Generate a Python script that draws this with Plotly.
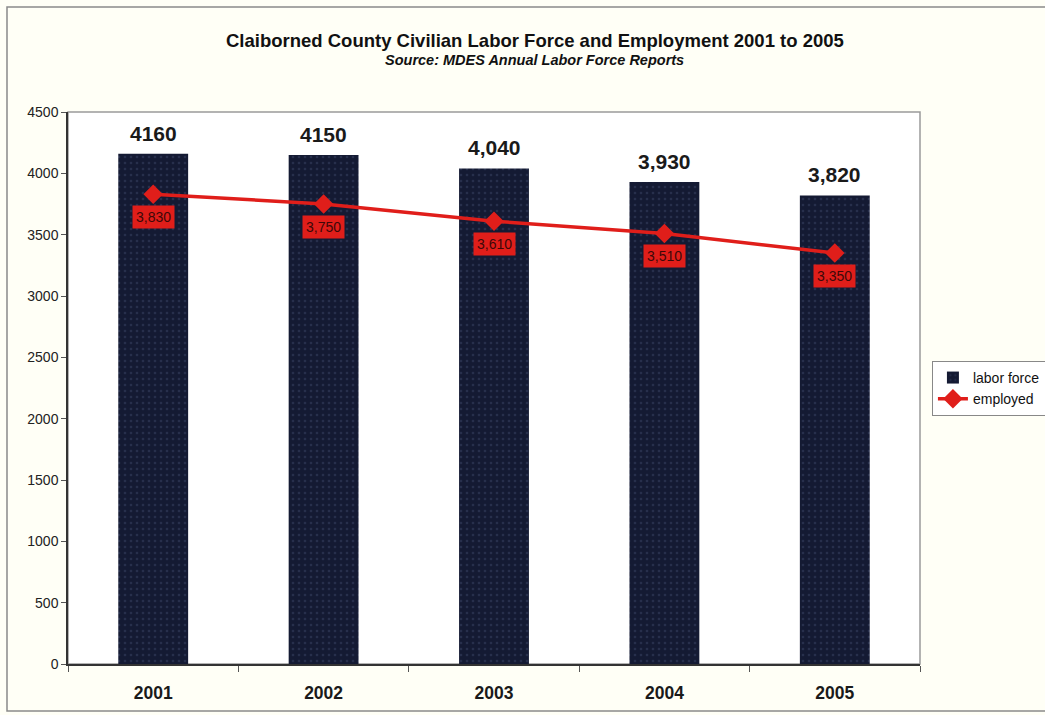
import plotly.graph_objects as go

# Claiborne County labor force vs. employed, 2001-2005
years = ["2001", "2002", "2003", "2004", "2005"]
labor_force = [4160, 4150, 4040, 3930, 3820]
employed = [3830, 3750, 3610, 3510, 3350]
labor_labels = ["4160", "4150", "4,040", "3,930", "3,820"]
employed_labels = [f"{v:,}" for v in employed]
y_ticks = [0, 500, 1000, 1500, 2000, 2500, 3000, 3500, 4000, 4500]

FONT = "Arial, Liberation Sans, sans-serif"
NAVY = "#141a33"
RED = "#e01e1a"

fig = go.Figure()

fig.add_trace(go.Bar(
    x=years, y=labor_force, name="labor force",
    marker=dict(color=NAVY, line=dict(width=0),
                pattern=dict(shape=".", fgcolor="#3a4466", size=6, solidity=0.15)),
))

fig.add_trace(go.Scatter(
    x=years, y=employed, name="employed", mode="lines+markers",
    line=dict(color=RED, width=3.5),
    marker=dict(symbol="diamond", size=15, color=RED),
))

# bar value labels above each bar (category index as x position)
for i, (v, lbl) in enumerate(zip(labor_force, labor_labels)):
    fig.add_annotation(
        x=i, y=v, xref="x", yref="y", text=f"<b>{lbl}</b>", showarrow=False,
        yanchor="bottom", yshift=7,
        font=dict(family=FONT, size=21, color="#1a1a1a"),
    )

# value boxes under each employment point
for i, (v, lbl) in enumerate(zip(employed, employed_labels)):
    fig.add_annotation(
        x=i, y=v, xref="x", yref="y", text=lbl, showarrow=False, yshift=-23,
        font=dict(family=FONT, size=14, color="#3d0808"),
        bgcolor=RED, borderpad=3,
    )

# titles
fig.add_annotation(
    xref="paper", yref="paper", x=0.548, y=1.130, xanchor="center", yanchor="middle",
    text="<b>Claiborned County Civilian Labor Force and Employment 2001 to 2005</b>",
    showarrow=False, font=dict(family=FONT, size=18.5, color="#111111"),
)
fig.add_annotation(
    xref="paper", yref="paper", x=0.548, y=1.094, xanchor="center", yanchor="middle",
    text="<b><i>Source: MDES Annual Labor Force Reports</i></b>",
    showarrow=False, font=dict(family=FONT, size=14.5, color="#111111"),
)

# outer chart frame and plot-area frame
fig.add_shape(type="rect", xref="paper", yref="paper",
              x0=-0.0716, y0=-0.085, x1=1.16, y1=1.19,
              line=dict(color="#8a8a8a", width=1.5), layer="below")
fig.add_shape(type="rect", xref="paper", yref="paper",
              x0=0, y0=0, x1=1, y1=1,
              line=dict(color="#9a9a9a", width=1.5), layer="below")

fig.update_layout(
    width=1045, height=715,
    margin=dict(l=68, r=125, t=112, b=51, autoexpand=False),
    paper_bgcolor="#fffff6",
    plot_bgcolor="#ffffff",
    bargap=0.59,
    font=dict(family=FONT, color="#222222"),
    showlegend=True,
    legend=dict(
        x=1.014, y=0.549, xanchor="left", yanchor="top",
        bgcolor="#ffffff", bordercolor="#888888", borderwidth=1,
        font=dict(family=FONT, size=14, color="#111111"),
        tracegroupgap=2, itemwidth=30,
    ),
)

fig.update_xaxes(
    type="category", categoryorder="array", categoryarray=years,
    range=[-0.5, 4.5],
    showgrid=False,
    showline=True, linecolor="#333333", linewidth=1.5,
    ticks="outside", tickson="boundaries", ticklen=6, tickcolor="#555555",
    tickfont=dict(family=FONT, size=17.5, color="#1a1a1a", weight="bold"),
    tickangle=0, ticklabelstandoff=12,
)
fig.update_yaxes(
    range=[0, 4500], tickvals=y_ticks, showgrid=False, zeroline=False,
    showline=True, linecolor="#333333", linewidth=1.5,
    ticks="outside", ticklen=5, tickcolor="#555555",
    tickfont=dict(family=FONT, size=14, color="#222222"),
)

fig.write_html("out.html")
